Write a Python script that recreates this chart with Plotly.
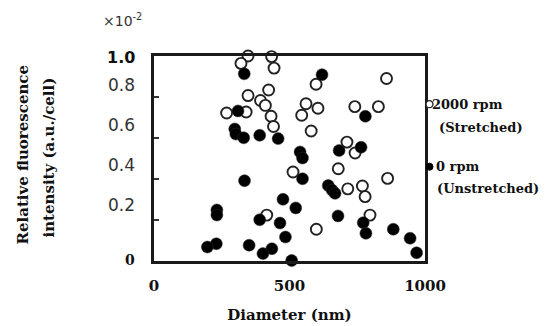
import plotly.graph_objects as go

# Stretched (2000 rpm) - open circles
stretched_x = [347, 321, 434, 443, 598, 858, 423, 347, 393, 411, 268, 340, 432, 441,
               561, 605, 545, 580, 741, 828, 712, 742, 513, 680, 862, 715, 769, 779,
               416, 797, 599]
stretched_y = [1.00, 0.964, 0.997, 0.941, 0.862, 0.890, 0.834, 0.807, 0.783, 0.759,
               0.722, 0.727, 0.706, 0.656, 0.767, 0.745, 0.711, 0.634, 0.753, 0.753,
               0.580, 0.527, 0.434, 0.450, 0.403, 0.352, 0.366, 0.314, 0.224, 0.224,
               0.155]

# Unstretched (0 rpm) - filled circles
unstretched_x = [333, 620, 310, 780, 298, 302, 331, 390, 458, 539, 548, 683, 764, 548,
                 334, 643, 657, 668, 476, 523, 232, 232, 679, 390, 465, 772, 782, 883,
                 485, 945, 230, 197, 351, 435, 402, 508, 969]
unstretched_y = [0.913, 0.909, 0.732, 0.706, 0.644, 0.619, 0.601, 0.613, 0.597, 0.532,
                 0.502, 0.539, 0.555, 0.401, 0.392, 0.368, 0.346, 0.330, 0.301, 0.259,
                 0.249, 0.224, 0.220, 0.201, 0.185, 0.187, 0.135, 0.155, 0.117, 0.111,
                 0.084, 0.068, 0.077, 0.060, 0.036, 0.002, 0.040]

x_tick_vals = [0, 500, 1000]
x_tick_text = ["0", "500", "1000"]
y_tick_vals = [0.2, 0.4, 0.6, 0.8]
y_label_text = ["1.0", "0.8", "0.6", "0.4", "0.2", "0"]
y_label_pos = [0.995, 0.859, 0.663, 0.468, 0.273, 0.005]

SERIF = "DejaVu Serif"
SANS = "DejaVu Sans"

fig = go.Figure()
fig.add_trace(go.Scatter(
    x=stretched_x, y=stretched_y, mode="markers", cliponaxis=False,
    marker=dict(size=11, color="white", line=dict(color="#222", width=1.9)),
    showlegend=False))
fig.add_trace(go.Scatter(
    x=unstretched_x, y=unstretched_y, mode="markers", cliponaxis=False,
    marker=dict(size=12, color="black", line=dict(color="#333", width=0.5)),
    showlegend=False))

fig.update_xaxes(range=[0, 1000], tickvals=x_tick_vals, ticktext=x_tick_text,
                 ticks="outside", ticklen=9, tickcolor="rgba(0,0,0,0)",
                 tickfont=dict(family=SERIF, size=15, color="#111", weight="bold"),
                 showgrid=False, zeroline=False, showline=True, mirror=True,
                 linecolor="#1a1a1a", linewidth=2.5, automargin=False,
                 title=dict(text="<b>Diameter (nm)</b>", font=dict(family=SERIF, size=15, color="#111"),
                            standoff=16))
fig.update_yaxes(range=[0, 1], tickvals=y_tick_vals, ticks="inside", ticklen=5,
                 tickwidth=2, tickcolor="#333", showticklabels=False,
                 showgrid=False, zeroline=False, showline=True, mirror=True,
                 linecolor="#1a1a1a", linewidth=2.5, automargin=False)

ann = []
for t, p in zip(y_label_text, y_label_pos):
    if t == "1.0":
        fnt = dict(family=SANS, size=16, color="#111")
        txt = "<b>1.0</b>"
    elif t == "0":
        fnt = dict(family=SERIF, size=14, color="#111")
        txt = "<b>0</b>"
    else:
        fnt = dict(family=SANS, size=17, color="#333")
        txt = t
    ann.append(dict(x=0, y=p, xref="x", yref="y", text=txt, showarrow=False,
                    xanchor="right", yanchor="middle", xshift=-17, font=fnt))

ann.append(dict(x=-0.118, y=1.176, xref="x domain", yref="y domain", text="×10<sup>-2</sup>",
                showarrow=False, xanchor="center", yanchor="middle",
                font=dict(family=SANS, size=14, color="#333")))

# axis title lines
ann.append(dict(x=0, y=0.5, xref="x domain", yref="y domain", text="<b>Relative fluorescence</b>",
                textangle=-90, showarrow=False, xanchor="center", yanchor="middle",
                xshift=-132, yshift=4, font=dict(family=SERIF, size=15, color="#111")))
ann.append(dict(x=0, y=0.5, xref="x domain", yref="y domain", text="<b>intensity (a.u./cell)</b>",
                textangle=-90, showarrow=False, xanchor="center", yanchor="middle",
                xshift=-106, yshift=1, font=dict(family=SERIF, size=15, color="#111")))

# legend text
legend_font = dict(family=SERIF, size=13, color="#111")
ann.append(dict(x=1, y=0.765, xref="x domain", yref="y domain", text="<b>2000 rpm</b>",
                showarrow=False, xanchor="left", yanchor="middle", xshift=5, font=legend_font))
ann.append(dict(x=1, y=0.652, xref="x domain", yref="y domain", text="<b>(Stretched)</b>",
                showarrow=False, xanchor="left", yanchor="middle", xshift=12, font=legend_font))
ann.append(dict(x=1, y=0.46, xref="x domain", yref="y domain", text="<b>0 rpm</b>",
                showarrow=False, xanchor="left", yanchor="middle", xshift=9, font=legend_font))
ann.append(dict(x=1, y=0.355, xref="x domain", yref="y domain", text="<b>(Unstretched)</b>",
                showarrow=False, xanchor="left", yanchor="middle", xshift=10, font=legend_font))

shapes = [
    dict(type="circle", xref="x domain", yref="y domain", xsizemode="pixel", ysizemode="pixel",
         xanchor=1, yanchor=0.765, x0=1, x1=8, y0=-3.5, y1=3.5,
         fillcolor="white", line=dict(color="#222", width=1.3)),
    dict(type="circle", xref="x domain", yref="y domain", xsizemode="pixel", ysizemode="pixel",
         xanchor=1, yanchor=0.46, x0=1, x1=8, y0=-3.5, y1=3.5,
         fillcolor="black", line=dict(color="black", width=1)),
]

fig.update_layout(width=553, height=326, margin=dict(l=154, r=128, t=56, b=65, autoexpand=False),
                  plot_bgcolor="white", paper_bgcolor="white",
                  annotations=ann, shapes=shapes)
fig.write_html("out.html", config={"displayModeBar": False},
               post_script="document.body.style.margin='0px';")
